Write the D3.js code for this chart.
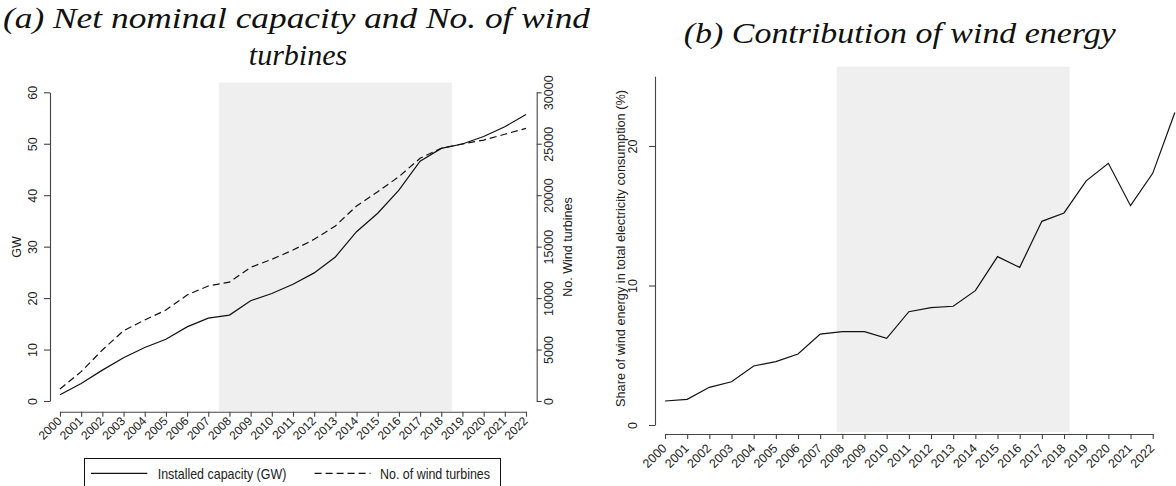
<!DOCTYPE html>
<html>
<head>
<meta charset="utf-8">
<script src="https://cdn.jsdelivr.net/npm/d3@7/dist/d3.min.js"></script>
<style>
  body { margin: 0; background: #fff; }
  svg { display: block; font-family: "Liberation Sans", Arial, sans-serif; }
</style>
</head>
<body>
<svg id="chart" width="1176" height="486"></svg>
<script>
// ---- data ----
const years = [2000, 2001, 2002, 2003, 2004, 2005, 2006, 2007, 2008, 2009, 2010, 2011,
               2012, 2013, 2014, 2015, 2016, 2017, 2018, 2019, 2020, 2021, 2022];
const tickYears = years;

// Panel (a): installed capacity (GW) and number of wind turbines
const capacityGW = [1.2, 3.4, 6.0, 8.4, 10.4, 12.0, 14.4, 16.1, 16.7, 19.5, 20.9, 22.7,
                    24.9, 28.0, 32.9, 36.5, 41.0, 46.6, 49.1, 49.95, 51.4, 53.3, 55.7];
const turbines = [1170, 2850, 4960, 6830, 7870, 8840, 10300, 11180, 11550, 12990, 13770, 14670,
                  15710, 17010, 18950, 20340, 21800, 23590, 24560, 24980, 25360, 25920, 26500];
const gwTicks = [0, 10, 20, 30, 40, 50, 60];
const turbineTicks = [0, 5000, 10000, 15000, 20000, 25000, 30000];

// Panel (b): share of wind energy in total electricity consumption (%)
const shareYears = [2000, 2001, 2002, 2003, 2004, 2005, 2006, 2007, 2008, 2009, 2010, 2011,
                    2012, 2013, 2014, 2015, 2016, 2017, 2018, 2019, 2020, 2021, 2022, 2023];
const windShare = [1.72, 1.84, 2.70, 3.10, 4.23, 4.54, 5.09, 6.52, 6.69, 6.69, 6.21, 8.12,
                   8.41, 8.51, 9.63, 12.07, 11.3, 14.6, 15.2, 17.5, 18.76, 15.72, 18.04, 22.4];
const shareTicks = [0, 10, 20];

// shaded period in each panel
const shadeA = [2007.5, 2018.5];
const shadeB = [2007.75, 2018.25];

// ---- layout ----
const svg = d3.select("#chart");
const AXIS = "#444";
const TEXT = "#222";
const SHADE = "#efefef";

function styleAxis(g) {
  g.selectAll(".domain").attr("stroke", AXIS).attr("stroke-width", 1.1);
  g.selectAll(".tick line").attr("stroke", AXIS).attr("stroke-width", 1.1);
  g.selectAll(".tick text").attr("fill", TEXT);
}

// ================= Panel (a) =================
const xA = d3.scaleLinear().domain([2000, 2022]).range([60, 526]);
const yA = d3.scaleLinear().domain([0, 60]).range([401, 92.3]);
const yA2 = d3.scaleLinear().domain([0, 30000]).range([401, 92.3]);

const gA = svg.append("g");

gA.append("rect")
  .attr("x", xA(shadeA[0])).attr("y", 82.5)
  .attr("width", xA(shadeA[1]) - xA(shadeA[0]))
  .attr("height", 411 - 82.5)
  .attr("fill", SHADE);

const lineCap = d3.line().x((d, i) => xA(years[i])).y(d => yA(d));
const lineTurb = d3.line().x((d, i) => xA(years[i])).y(d => yA2(d));

gA.append("path").datum(capacityGW)
  .attr("d", lineCap).attr("fill", "none")
  .attr("stroke", "#111").attr("stroke-width", 1.2);
gA.append("path").datum(turbines)
  .attr("d", lineTurb).attr("fill", "none")
  .attr("stroke", "#111").attr("stroke-width", 1.2)
  .attr("stroke-dasharray", "7,4");

// x axis
const axA = gA.append("g").attr("transform", "translate(0,411.7)")
  .call(d3.axisBottom(xA).tickValues(tickYears).tickFormat(d3.format("d"))
        .tickSize(5).tickSizeOuter(0));
styleAxis(axA);
axA.selectAll(".tick text")
  .attr("y", 0).attr("dy", 0)
  .attr("text-anchor", "end")
  .attr("font-size", 12)
  .attr("transform", "translate(2,10) rotate(-45)");

// left y axis (GW)
const ayA = gA.append("g").attr("transform", "translate(50,0)")
  .call(d3.axisLeft(yA).tickValues(gwTicks).tickSize(6).tickSizeOuter(0));
styleAxis(ayA);
ayA.selectAll(".tick text")
  .attr("x", 0).attr("dy", 0).attr("y", -13.5)
  .attr("text-anchor", "middle")
  .attr("font-size", 12.5)
  .attr("transform", "rotate(-90)");

// right y axis (turbines)
const ayA2 = gA.append("g").attr("transform", "translate(536.7,0)")
  .call(d3.axisRight(yA2).tickValues(turbineTicks).tickFormat(d3.format("d"))
        .tickSize(5).tickSizeOuter(0));
styleAxis(ayA2);
ayA2.selectAll(".tick text")
  .attr("x", 0).attr("dy", 0).attr("y", 16.5)
  .attr("text-anchor", "middle")
  .attr("font-size", 12.5)
  .attr("transform", "rotate(-90)");

// axis titles
gA.append("text").text("GW")
  .attr("transform", "translate(20.7,247) rotate(-90)")
  .attr("text-anchor", "middle").attr("font-size", 12.5).attr("fill", TEXT);
gA.append("text").text("No. Wind turbines")
  .attr("transform", "translate(571.5,247) rotate(-90)")
  .attr("text-anchor", "middle").attr("font-size", 12.5).attr("fill", TEXT);

// legend
const leg = gA.append("g");
leg.append("rect")
  .attr("x", 84.5).attr("y", 458.5).attr("width", 416).attr("height", 40)
  .attr("fill", "#fff").attr("stroke", "#111").attr("stroke-width", 1);
leg.append("line").attr("x1", 91).attr("x2", 147.3).attr("y1", 473.3).attr("y2", 473.3)
  .attr("stroke", "#111").attr("stroke-width", 1.2);
leg.append("text").text("Installed capacity (GW)")
  .attr("x", 157.7).attr("y", 478.5).attr("font-size", 15)
  .attr("textLength", 128.6).attr("lengthAdjust", "spacingAndGlyphs").attr("fill", TEXT);
leg.append("line").attr("x1", 314.6).attr("x2", 370.5).attr("y1", 473.3).attr("y2", 473.3)
  .attr("stroke", "#111").attr("stroke-width", 1.2).attr("stroke-dasharray", "7,4");
leg.append("text").text("No. of wind turbines")
  .attr("x", 380).attr("y", 478.5).attr("font-size", 15)
  .attr("textLength", 110).attr("lengthAdjust", "spacingAndGlyphs").attr("fill", TEXT);

// title (a)
const titleFont = "'Liberation Serif', 'Times New Roman', serif";
gA.append("text").text("(a) Net nominal capacity and No. of wind")
  .attr("x", 3).attr("y", 28).attr("font-family", titleFont).attr("font-style", "italic")
  .attr("font-size", 30).attr("textLength", 587).attr("lengthAdjust", "spacingAndGlyphs")
  .attr("fill", "#111");
gA.append("text").text("turbines")
  .attr("x", 298).attr("y", 65).attr("text-anchor", "middle")
  .attr("font-family", titleFont).attr("font-style", "italic")
  .attr("font-size", 30).attr("fill", "#111");

// ================= Panel (b) =================
const xB = d3.scaleLinear().domain([2000, 2022]).range([665, 1152.7]);
const yB = d3.scaleLinear().domain([0, 25]).range([425, 425 - 25 * 13.95]);

const gB = svg.append("g");

gB.append("rect")
  .attr("x", xB(shadeB[0])).attr("y", 66.7)
  .attr("width", xB(shadeB[1]) - xB(shadeB[0]))
  .attr("height", 432 - 66.7)
  .attr("fill", SHADE);

const lineShare = d3.line().x((d, i) => xB(shareYears[i])).y(d => yB(d));
gB.append("path").datum(windShare)
  .attr("d", lineShare).attr("fill", "none")
  .attr("stroke", "#111").attr("stroke-width", 1.2);

const axB = gB.append("g").attr("transform", "translate(0,434)")
  .call(d3.axisBottom(xB).tickValues(tickYears).tickFormat(d3.format("d"))
        .tickSize(5).tickSizeOuter(0));
styleAxis(axB);
axB.selectAll(".tick text")
  .attr("y", 0).attr("dy", 0)
  .attr("text-anchor", "end")
  .attr("font-size", 12.5)
  .attr("transform", "translate(2,15) rotate(-45)");

const ayB = gB.append("g").attr("transform", "translate(655,0)")
  .call(d3.axisLeft(yB).tickValues(shareTicks).tickSize(6).tickSizeOuter(0));
styleAxis(ayB);
ayB.selectAll(".tick text")
  .attr("x", 0).attr("dy", 0).attr("y", -18.3)
  .attr("text-anchor", "middle")
  .attr("font-size", 12.5)
  .attr("transform", "rotate(-90)");

gB.append("text").text("Share of wind energy in total electricity consumption (%)")
  .attr("transform", "translate(625.3,248.5) rotate(-90)")
  .attr("text-anchor", "middle").attr("font-size", 12.5)
  .attr("textLength", 317).attr("lengthAdjust", "spacingAndGlyphs").attr("fill", TEXT);

gB.append("text").text("(b) Contribution of wind energy")
  .attr("x", 683.8).attr("y", 43.4).attr("font-family", titleFont).attr("font-style", "italic")
  .attr("font-size", 30).attr("textLength", 432).attr("lengthAdjust", "spacingAndGlyphs")
  .attr("fill", "#111");
</script>
</body>
</html>
